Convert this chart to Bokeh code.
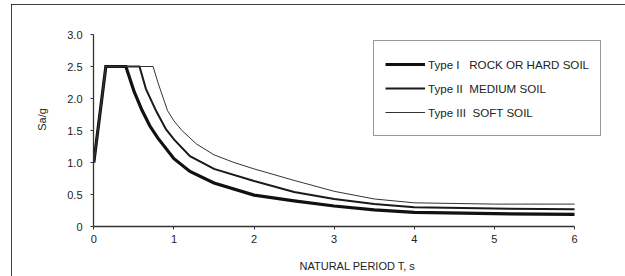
from bokeh.plotting import figure
from bokeh.models import Range1d, Legend, LegendItem, FixedTicker
from bokeh.embed import file_html
from bokeh.resources import INLINE

# --- data ---
rock_T = [0, 0.15, 0.4, 0.5, 0.6, 0.7, 0.8, 1.0, 1.2, 1.5, 2.0, 2.5, 3.0, 3.5, 4.0, 5.0, 6.0]
rock_Sa = [1.0, 2.5, 2.5, 2.12, 1.82, 1.57, 1.38, 1.06, 0.86, 0.68, 0.49, 0.40, 0.32, 0.26, 0.22, 0.20, 0.19]

medium_T = [0, 0.15, 0.57, 0.65, 0.78, 0.9, 1.0, 1.2, 1.5, 2.0, 2.5, 3.0, 3.5, 4.0, 5.0, 6.0]
medium_Sa = [1.0, 2.5, 2.5, 2.15, 1.80, 1.52, 1.36, 1.10, 0.90, 0.71, 0.54, 0.43, 0.35, 0.30, 0.28, 0.27]

soft_T = [0, 0.15, 0.74, 0.8, 0.92, 1.0, 1.1, 1.28, 1.5, 1.75, 2.0, 2.5, 3.0, 3.5, 4.0, 5.0, 6.0]
soft_Sa = [1.0, 2.5, 2.5, 2.25, 1.81, 1.65, 1.50, 1.29, 1.12, 1.00, 0.90, 0.72, 0.55, 0.43, 0.37, 0.35, 0.35]

x_ticks = [0, 1, 2, 3, 4, 5, 6]
y_ticks = [0, 0.5, 1.0, 1.5, 2.0, 2.5, 3.0]
y_tick_labels = {0: "0", 0.5: "0.5", 1: "1.0", 1.5: "1.5", 2: "2.0", 2.5: "2.5", 3: "3.0"}
series_labels = ["Type I   ROCK OR HARD SOIL", "Type II  MEDIUM SOIL", "Type III  SOFT SOIL"]

FONT = "Liberation Sans"
TXT = "#222222"

# frame: T=0 at page x 93, T=6 at x 574; Sa=0 at page y 226, 64 px per unit
FRAME_W = 614 - 82 - 4
FRAME_H = 272 - 8 - 50
x_end = 6.0 * FRAME_W / (574 - 93)
y_end = FRAME_H / 64.0

p = figure(width=614, height=272, output_backend="svg", toolbar_location=None,
           x_range=Range1d(-0.004, x_end), y_range=Range1d(0, y_end),
           min_border_left=82, min_border_right=4, min_border_top=8, min_border_bottom=50)
p.outline_line_color = None
p.grid.visible = False
p.background_fill_color = "white"
p.border_fill_color = "white"
p.styles = {"margin-left": "11px", "margin-top": "4px",
            "outline": "2px solid black", "outline-offset": "-2px"}

lines = []
lines.append(p.line(rock_T, rock_Sa, line_color="#111111", line_width=3.2, line_join="miter"))
lines.append(p.line(medium_T, medium_Sa, line_color="#1a1a1a", line_width=2.0, line_join="miter"))
lines.append(p.line(soft_T, soft_Sa, line_color="#333333", line_width=1.0, line_join="miter"))

# axes
p.xaxis.ticker = FixedTicker(ticks=x_ticks)
p.yaxis.ticker = FixedTicker(ticks=y_ticks)
p.yaxis.major_label_overrides = y_tick_labels
p.xaxis.bounds = (0, 6)
p.yaxis.bounds = (0, 3)
for ax in (p.xaxis[0], p.yaxis[0]):
    ax.axis_line_color = "#333333"
    ax.axis_line_width = 1.3
    ax.major_tick_line_color = "#333333"
    ax.major_tick_out = 3
    ax.major_tick_in = 0
    ax.minor_tick_line_color = None
    ax.major_label_text_font = FONT
    ax.major_label_text_font_size = "11px"
    ax.major_label_text_color = TXT
    ax.axis_label_text_font = FONT
    ax.axis_label_text_font_size = "11px"
    ax.axis_label_text_font_style = "normal"
    ax.axis_label_text_color = TXT
p.xaxis.axis_label = "NATURAL PERIOD T, s"
p.yaxis.axis_label = "Sa/g"
p.xaxis.major_label_standoff = 5
p.xaxis.axis_label_standoff = 14
p.yaxis.major_label_standoff = 8
p.yaxis.axis_label_standoff = 16

legend = Legend(items=[LegendItem(label=series_labels[i], renderers=[lines[i]]) for i in range(3)],
                location=(280, 90), glyph_width=40, glyph_height=24, label_height=24,
                label_standoff=3, spacing=0, padding=11, margin=0,
                border_line_color="#333333", border_line_width=1,
                label_text_font=FONT, label_text_font_size="11.6px", label_text_color=TXT,
                background_fill_alpha=1)
p.add_layout(legend, "center")

open("out.html", "w").write(file_html(p, INLINE))
